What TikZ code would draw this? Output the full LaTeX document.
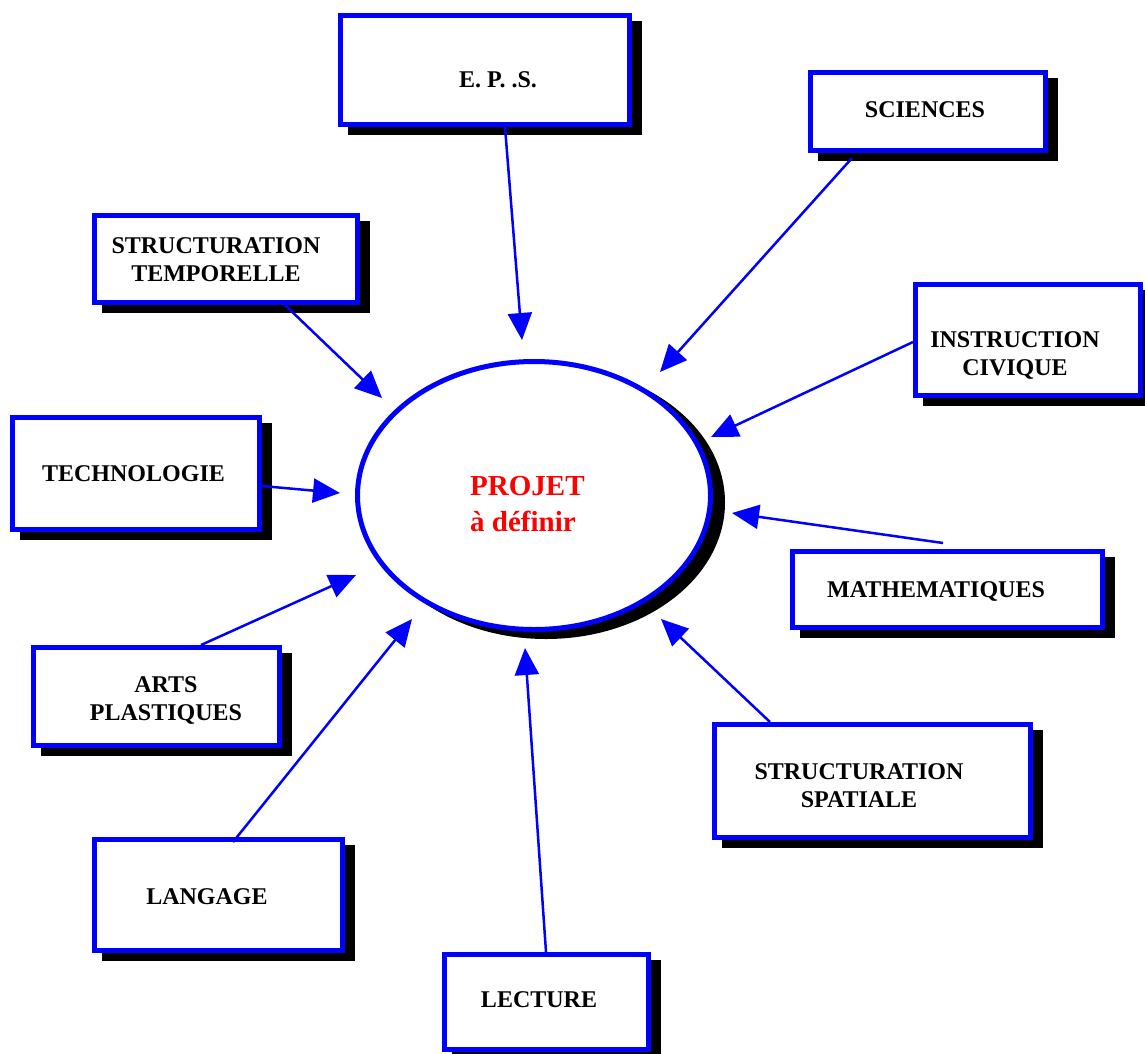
\documentclass[tikz,border=0pt]{standalone}
\usepackage{fontspec}
\setmainfont{Liberation Serif}
\usetikzlibrary{arrows.meta,shapes.geometric,shadows}
\begin{document}
\begin{tikzpicture}[x=1pt,y=-1pt,
  box/.style={draw=blue, line width=5pt, fill=white, rectangle, inner sep=0pt,
    general shadow={fill=black, draw=black, line width=5pt, shadow xshift=10pt, shadow yshift=-8pt}},
  lbl/.style={font=\fontsize{24}{28}\selectfont\bfseries, anchor=base, inner sep=0pt},
  conn/.style={draw=blue, line width=2.5pt, -{Triangle[length=27pt,width=24pt]}}]
\useasboundingbox (0,0) rectangle (1145,1053);
\clip (0,0) rectangle (1145,1053);

% central ellipse
\node[ellipse, draw=blue, line width=5pt, fill=white, minimum width=353pt, minimum height=268pt, inner sep=0pt,
  general shadow={fill=black, draw=black, line width=5pt, shadow xshift=12pt, shadow yshift=-7pt}] (projet) at (534,495.5) {};
\node[font=\fontsize{29}{36}\selectfont\bfseries, text=red, anchor=base west, inner sep=0pt] (projet-t) at (470,495)
  {\begin{tabular}[t]{@{}l@{}}PROJET\\à définir\end{tabular}};

% boxes
\node[box, minimum width=289pt, minimum height=109pt] (eps) at (485,70) {};
\node[box, minimum width=235pt, minimum height=78pt] (sci) at (928,111.5) {};
\node[box, minimum width=263pt, minimum height=87pt] (stemp) at (226,259) {};
\node[box, minimum width=225pt, minimum height=111pt] (instr) at (1028,340) {};
\node[box, minimum width=247pt, minimum height=112pt] (tech) at (136,473.5) {};
\node[box, minimum width=310pt, minimum height=76pt] (math) at (947.5,589.5) {};
\node[box, minimum width=246pt, minimum height=98pt] (arts) at (156.5,696.5) {};
\node[box, minimum width=316pt, minimum height=113pt] (sspat) at (872.5,781) {};
\node[box, minimum width=248pt, minimum height=111pt] (lang) at (218.5,895) {};
\node[box, minimum width=204pt, minimum height=95pt] (lect) at (546.5,1002) {};

% labels
\node[lbl] (eps-t) at (498,87) {E. P. .S.};
\node[lbl] (sci-t) at (925,117) {SCIENCES};
\node[lbl] (stemp-t) at (216,253) {\begin{tabular}[t]{@{}c@{}}STRUCTURATION\\TEMPORELLE\end{tabular}};
\node[lbl] (instr-t) at (1015,347) {\begin{tabular}[t]{@{}c@{}}INSTRUCTION\\CIVIQUE\end{tabular}};
\node[lbl] (tech-t) at (133.5,481) {TECHNOLOGIE};
\node[lbl] (math-t) at (936,597) {MATHEMATIQUES};
\node[lbl] (arts-t) at (166,692) {\begin{tabular}[t]{@{}c@{}}ARTS\\PLASTIQUES\end{tabular}};
\node[lbl] (sspat-t) at (859,779) {\begin{tabular}[t]{@{}c@{}}STRUCTURATION\\SPATIALE\end{tabular}};
\node[lbl] (lang-t) at (207,904) {LANGAGE};
\node[lbl] (lect-t) at (539,1007) {LECTURE};

% connector end points
\coordinate (eps-o) at (505,127);   \coordinate (eps-i) at (522,340);
\coordinate (sci-o) at (852,158);   \coordinate (sci-i) at (660,372);
\coordinate (stemp-o) at (285,305); \coordinate (stemp-i) at (382,398);
\coordinate (instr-o) at (913,342); \coordinate (instr-i) at (711,437);
\coordinate (tech-o) at (262,486);  \coordinate (tech-i) at (340,493);
\coordinate (math-o) at (943,543);  \coordinate (math-i) at (732,513);
\coordinate (arts-o) at (201,645);  \coordinate (arts-i) at (356,575);
\coordinate (sspat-o) at (770,722); \coordinate (sspat-i) at (661,619);
\coordinate (lang-o) at (233,842);  \coordinate (lang-i) at (412,619);
\coordinate (lect-o) at (546,952);  \coordinate (lect-i) at (525,648);

\foreach \n in {eps,sci,stemp,instr,tech,math,arts,sspat,lang,lect}
  \draw[conn] (\n-o) -- (\n-i);
\end{tikzpicture}
\end{document}
